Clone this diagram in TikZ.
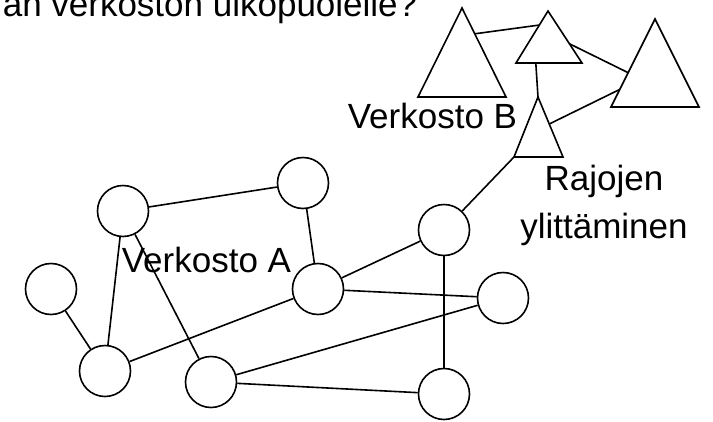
\documentclass[tikz,border=0pt]{standalone}
\usepackage{fontspec}
\setmainfont{Liberation Sans}
\usetikzlibrary{calc}

\begin{document}
\begin{tikzpicture}[
			x=1pt, y=-1pt,
			line width=1.6pt,
			main/.style = {draw, circle, minimum size=51pt, inner sep=0pt},
			lbl/.style = {inner sep=0pt, font=\fontsize{35}{48}\selectfont}
		]
		\useasboundingbox (0,0) rectangle (713,421);
		\clip (0,0) rectangle (713,421);
		\node[lbl, anchor=base west] (title) at (2,16) {an verkoston ulkopuolelle?};
		% Verkosto A.
		\node[main] (tl) at (123,211) {};
		\node[main] (tr) at (303,183) {};
		\node[main] (l) at (51,289) {};
		\node[main] (m) at (318,289) {};
		\node[main] (bl) at (105,371) {};
		\node[main] (bm) at (211,382) {};
		\node[main] (ur) at (444,230) {};
		\node[main] (r) at (503,298) {};
		\node[main] (br) at (444,394) {};
		\node[lbl, anchor=base west] (labA) at (121,272) {Verkosto A};
		% Verkosto B.
		\coordinate (b1-a) at (462,8);
		\coordinate (b1-l) at (418,97);
		\coordinate (b1-r) at (506,97);
		\coordinate (b2-a) at (548,11);
		\coordinate (b2-l) at (516,63);
		\coordinate (b2-r) at (582,63);
		\coordinate (b3-a) at (655,19);
		\coordinate (b3-l) at (611,107);
		\coordinate (b3-r) at (699,107);
		\coordinate (b4-a) at (538,97);
		\coordinate (b4-l) at (514,157);
		\coordinate (b4-r) at (563,157);
		\draw (b1-a) -- (b1-l) -- (b1-r) -- cycle;
		\draw (b2-a) -- (b2-l) -- (b2-r) -- cycle;
		\draw (b3-a) -- (b3-l) -- (b3-r) -- cycle;
		\draw (b4-a) -- (b4-l) -- (b4-r) -- cycle;
		\node[lbl, anchor=base west] (labB) at (347,128) {Verkosto B};
		\node[lbl, align=center, anchor=base] (labC) at (604,238) {Rajojen\\ylittäminen};

		\draw (tl) to (tr);
		\draw (tr) to (m);
		\draw (tl) to (bl);
		\draw (tl) to (bm);
		\draw (l) to (bl);
		\draw (bl) to (m);
		\draw (m) to (ur);
		\draw (m) to (r);
		\draw (bm) to (r);
		\draw (bm) to (br);
		\draw (ur) to (br);
		\draw (b4-l) to (ur);
		\draw ($(b1-a)!0.29!(b1-r)$) to ($(b2-a)!0.27!(b2-l)$);
		\draw ($(b2-a)!0.63!(b2-r)$) to ($(b3-a)!0.61!(b3-l)$);
		\draw ($(b2-l)!0.3!(b2-r)$) to (b4-a);
		\draw ($(b4-a)!0.45!(b4-r)$) to ($(b3-a)!0.8!(b3-l)$);
	\end{tikzpicture}
\end{document}
